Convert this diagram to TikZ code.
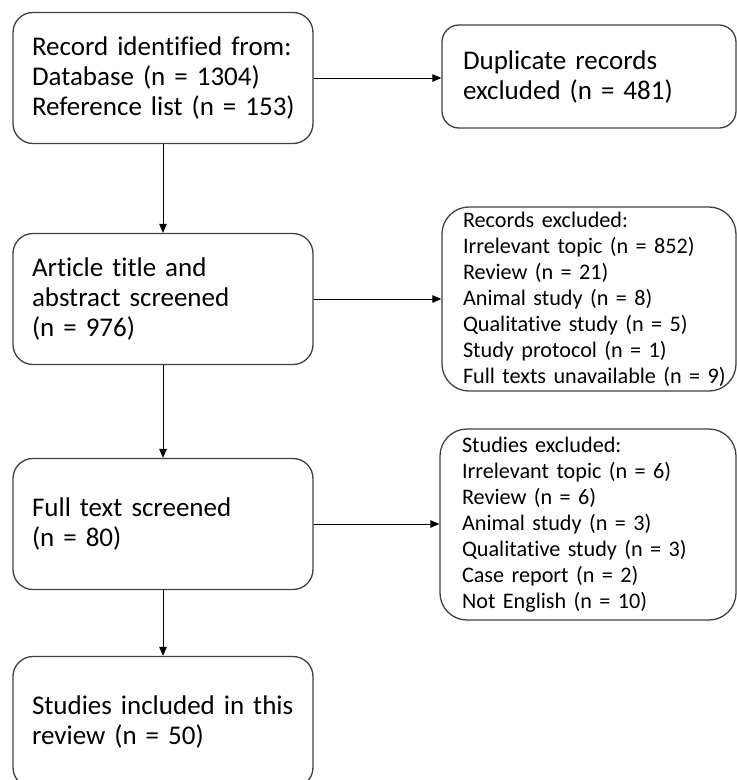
\documentclass[tikz,border=0pt]{standalone}
\usepackage{fontspec}
\setmainfont{Carlito}[Ligatures=NoCommon]
\frenchspacing
\usetikzlibrary{arrows.meta}
\newcommand{\oneln}[1]{\mbox{#1}}
\begin{document}
\begin{tikzpicture}[x=1pt,y=-1pt,
  box/.style={draw=black!75, line width=1.3pt, align=left, anchor=center, inner ysep=0pt},
  bigbox/.style={box, rounded corners=20pt, text width=262pt, inner xsep=19pt,
                 minimum height=131pt, font=\fontsize{27}{30}\selectfont},
  smallbox/.style={box, rounded corners=27pt, font=\fontsize{22.2}{26}\selectfont},
  arr/.style={-{Triangle[length=9pt,width=7.5pt]}, line width=1pt, black}
]
\useasboundingbox (0,0) rectangle (737,780);
\clip (0,0) rectangle (737,780);

\node[bigbox] (b1) at (163,78)  {\oneln{Record identified from:}\\\oneln{Database (n = 1304)}\\\oneln{Reference list (n = 153)}};
\node[bigbox] (b2) at (163,299) {\oneln{Article title and}\\\oneln{abstract screened}\\\oneln{(n = 976)}};
\node[bigbox] (b3) at (163,524) {\oneln{Full text screened}\\\oneln{(n = 80)}};
\node[bigbox] (b4) at (163,722) {\oneln{Studies included in this}\\\oneln{review (n = 50)}};

\node[box, rounded corners=17pt, font=\fontsize{27}{30}\selectfont, text width=252pt,
      inner xsep=21pt, minimum height=103pt] (dup) at (589,76.5)
      {\oneln{Duplicate records}\\\oneln{excluded (n = 481)}};

\node[smallbox, text width=252pt, inner xsep=21pt, minimum height=184pt] (rec) at (589,299)
      {\oneln{Records excluded:}\\\oneln{Irrelevant topic (n = 852)}\\\oneln{Review (n = 21)}\\\oneln{Animal study (n = 8)}\\\oneln{Qualitative study (n = 5)}\\\oneln{Study protocol (n = 1)}\\\oneln{Full texts unavailable (n = 9)}};

\node[smallbox, text width=252pt, inner xsep=22pt, minimum height=191pt] (stu) at (588,524.5)
      {\oneln{Studies excluded:}\\\oneln{Irrelevant topic (n = 6)}\\\oneln{Review (n = 6)}\\\oneln{Animal study (n = 3)}\\\oneln{Qualitative study (n = 3)}\\\oneln{Case report (n = 2)}\\\oneln{Not English (n = 10)}};

\draw[arr] (b1.east) -- (b1.east -| dup.west);
\draw[arr] (b2.east) -- (b2.east -| rec.west);
\draw[arr] (b3.east) -- (b3.east -| stu.west);
\draw[arr] (b1.south) -- (b2.north);
\draw[arr] (b2.south) -- (b3.north);
\draw[arr] (b3.south) -- (b4.north);
\end{tikzpicture}
\end{document}
